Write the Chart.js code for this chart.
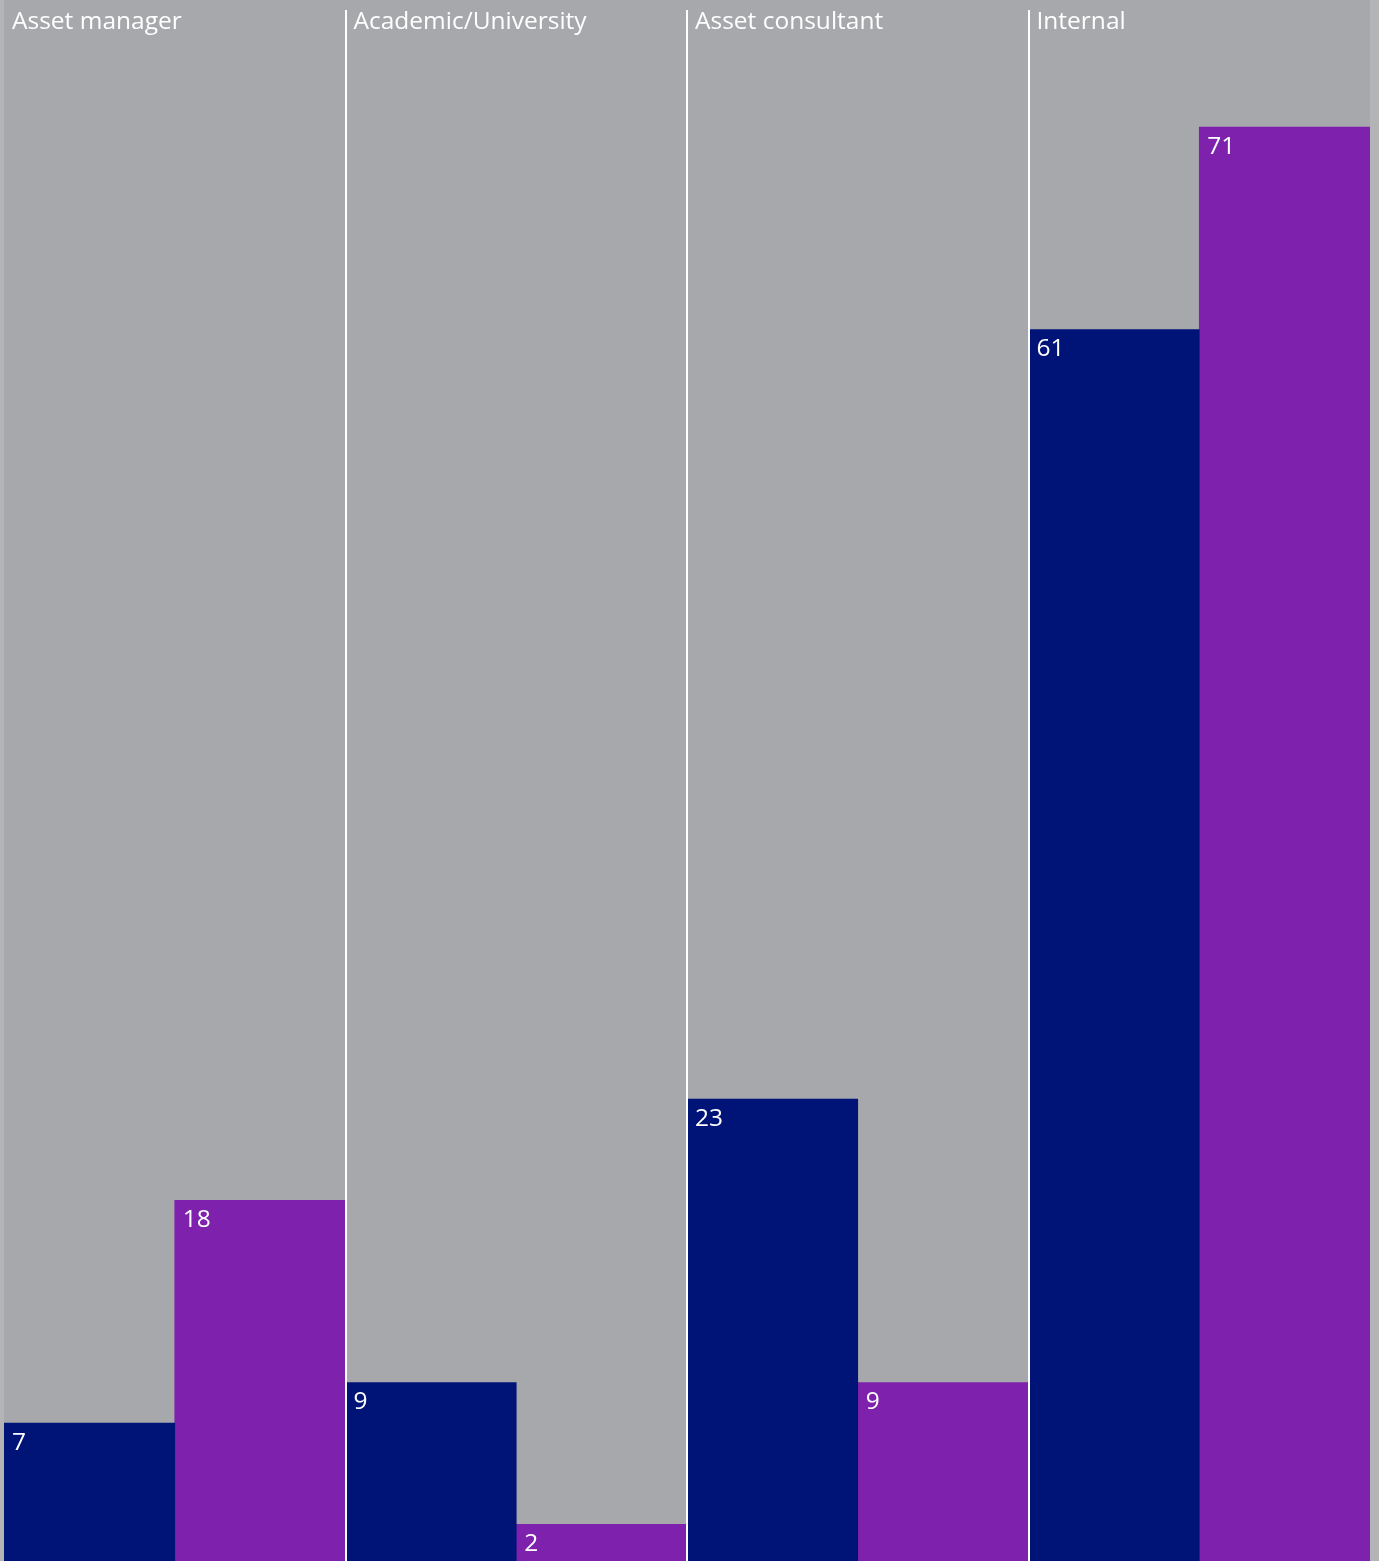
<!DOCTYPE html>
<html><head><meta charset="utf-8">
<script src="https://cdn.jsdelivr.net/npm/chart.js@4/dist/chart.umd.min.js"></script>
<style>html,body{margin:0;padding:0;background:#b4b4b6;overflow:hidden}#wrap{width:1379px;height:1561px;position:relative}</style>
</head><body><div id="wrap"><canvas id="c"></canvas></div>
<script>
const categories = ["Asset manager", "Academic/University", "Asset consultant", "Internal"];
const seriesA = [7, 9, 23, 61];
const seriesB = [18, 2, 9, 71];
const colorA = "#001478";
const colorB = "#7e22ae";
const panelGrey = "#a7a8ac";
const FONT = "24.5px 'Open Sans'";

const overlay = {
  id: "overlay",
  beforeDraw(chart) {
    const {ctx, chartArea: a} = chart;
    ctx.save();
    ctx.fillStyle = panelGrey;
    ctx.fillRect(a.left, a.top, a.right - a.left, a.bottom - a.top);
    ctx.restore();
  },
  afterDatasetsDraw(chart) {
    const {ctx, chartArea: a, scales: {x}} = chart;
    const w = (a.right - a.left) / categories.length;
    ctx.save();
    ctx.strokeStyle = "#ffffff";
    ctx.lineWidth = 2;
    for (let i = 1; i < categories.length; i++) {
      const px = Math.round(x.getPixelForValue(i) - w / 2);
      ctx.beginPath();
      ctx.moveTo(px, a.top + 10);
      ctx.lineTo(px, a.bottom);
      ctx.stroke();
    }
    ctx.fillStyle = "#ffffff";
    ctx.font = FONT;
    ctx.textBaseline = "alphabetic";
    ctx.textAlign = "left";
    categories.forEach((c, i) => {
      const left = x.getPixelForValue(i) - w / 2;
      ctx.fillText(c, left + 8, a.top + 28.5);
    });
    chart.data.datasets.forEach((ds, di) => {
      const meta = chart.getDatasetMeta(di);
      meta.data.forEach((el, i) => {
        const left = el.x - el.width / 2;
        ctx.fillText(String(ds.data[i]), left + 8, el.y + 27);
      });
    });
    ctx.restore();
  }
};

new Chart(document.getElementById("c"), {
  type: "bar",
  data: {
    labels: categories,
    datasets: [
      {data: seriesA, backgroundColor: colorA, categoryPercentage: 1, barPercentage: 1, borderWidth: 0},
      {data: seriesB, backgroundColor: colorB, categoryPercentage: 1, barPercentage: 1, borderWidth: 0}
    ]
  },
  options: {
    responsive: true,
    maintainAspectRatio: false,
    animation: false,
    layout: {padding: {left: 4, right: 9, top: 0, bottom: 0}},
    plugins: {legend: {display: false}, tooltip: {enabled: false}},
    scales: {
      x: {display: false},
      y: {display: false, min: 0.185, max: 77.27}
    }
  },
  plugins: [overlay]
});
</script>
</body></html>
